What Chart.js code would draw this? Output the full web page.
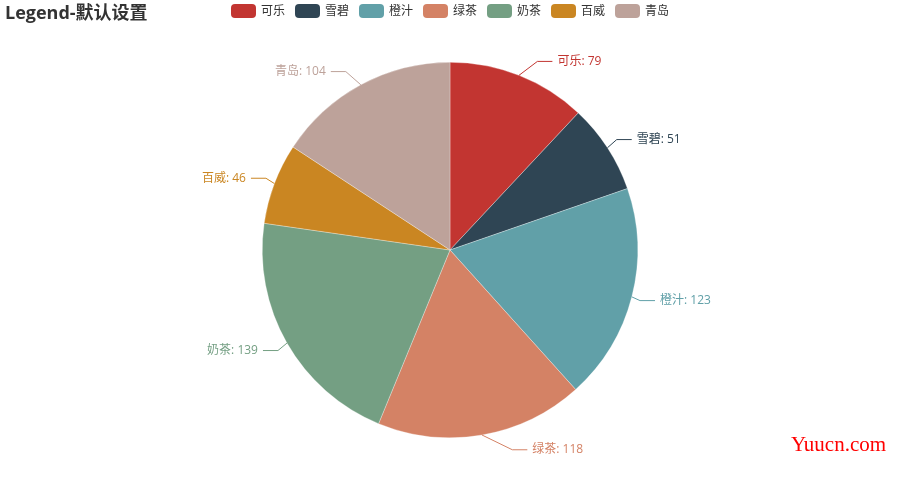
<!DOCTYPE html>
<html>
<head>
<meta charset="utf-8">
<script src="https://cdn.jsdelivr.net/npm/chart.js@4/dist/chart.umd.min.js"></script>
<style>
  html, body { margin: 0; padding: 0; background: #ffffff; }
  #wrap { width: 900px; height: 500px; position: relative; }
</style>
</head>
<body>
<div id="wrap"><canvas id="c" width="900" height="500"></canvas></div>
<script>
const titleText = 'Legend-默认设置';
const categories = ['可乐', '雪碧', '橙汁', '绿茶', '奶茶', '百威', '青岛'];
const values = [79, 51, 123, 118, 139, 46, 104];
const colors = ['#c23531', '#2f4554', '#61a0a8', '#d48265', '#749f83', '#ca8622', '#bda29a'];
const watermarkText = 'Yuucn.com';

const FONT = "'Open Sans', 'Noto Sans CJK SC', sans-serif";

function roundRect(ctx, x, y, w, h, r) {
  ctx.beginPath();
  ctx.moveTo(x + r, y);
  ctx.lineTo(x + w - r, y);
  ctx.arcTo(x + w, y, x + w, y + r, r);
  ctx.lineTo(x + w, y + h - r);
  ctx.arcTo(x + w, y + h, x + w - r, y + h, r);
  ctx.lineTo(x + r, y + h);
  ctx.arcTo(x, y + h, x, y + h - r, r);
  ctx.lineTo(x, y + r);
  ctx.arcTo(x, y, x + r, y, r);
  ctx.closePath();
}

const decorPlugin = {
  id: 'decor',
  afterDatasetsDraw(chart) {
    const ctx = chart.ctx;
    const meta = chart.getDatasetMeta(0);
    ctx.save();
    ctx.font = '12px ' + FONT;
    ctx.textBaseline = 'middle';
    meta.data.forEach((arc, i) => {
      const p = arc.getProps(['x', 'y', 'startAngle', 'endAngle', 'outerRadius'], true);
      const mid = (p.startAngle + p.endAngle) / 2;
      const nx = Math.cos(mid), ny = Math.sin(mid);
      const R = p.outerRadius;
      const dir = nx < 0 ? -1 : 1;
      const x1 = p.x + nx * R, y1 = p.y + ny * R;
      const y2 = p.y + ny * (R + 15);
      const rA = R + 8, rB = R + 23;
      const dy = Math.abs(y2 - p.y);
      const x2 = p.x + dir * rA * Math.sqrt(Math.max(0, 1 - dy * dy / (rB * rB)));
      const x3 = x2 + dir * 15;
      ctx.strokeStyle = colors[i];
      ctx.lineWidth = 1;
      ctx.beginPath();
      ctx.moveTo(x1, y1);
      ctx.lineTo(x2, y2);
      ctx.lineTo(x3, y2);
      ctx.stroke();
      ctx.fillStyle = colors[i];
      ctx.textAlign = dir > 0 ? 'left' : 'right';
      ctx.fillText(categories[i] + ': ' + values[i], x3 + dir * 5, y2);
    });
    ctx.restore();
  },
  afterDraw(chart) {
    const ctx = chart.ctx;
    ctx.save();
    ctx.fillStyle = '#333';
    ctx.font = 'bold 18px ' + FONT;
    ctx.textAlign = 'left';
    ctx.textBaseline = 'middle';
    ctx.fillText(titleText, 5, 14);
    ctx.font = '12px ' + FONT;
    const boxW = 25, boxH = 14, gapText = 5, gapItem = 10;
    const widths = categories.map(c => boxW + gapText + ctx.measureText(c).width);
    const total = widths.reduce((a, b) => a + b, 0) + gapItem * (categories.length - 1);
    let x = chart.width / 2 - total / 2;
    const cy = 11;
    categories.forEach((c, i) => {
      ctx.fillStyle = colors[i];
      roundRect(ctx, x, cy - boxH / 2, boxW, boxH, 4);
      ctx.fill();
      ctx.fillStyle = '#333';
      ctx.textAlign = 'left';
      ctx.fillText(c, x + boxW + gapText, cy + 0.5);
      x += widths[i] + gapItem;
    });
    ctx.fillStyle = '#ff0000';
    ctx.font = "21px 'Liberation Serif', 'DejaVu Serif', serif";
    ctx.textAlign = 'left';
    ctx.textBaseline = 'alphabetic';
    ctx.fillText(watermarkText, 791, 451);
    ctx.restore();
  }
};

new Chart(document.getElementById('c'), {
  type: 'pie',
  data: {
    labels: categories,
    datasets: [{
      data: values,
      backgroundColor: colors,
      borderColor: 'rgba(255,255,255,0.6)',
      borderWidth: 0.5,
      hoverOffset: 0
    }]
  },
  options: {
    responsive: false,
    animation: false,
    layout: { padding: { top: 62, bottom: 62, left: 200, right: 200 } },
    plugins: {
      legend: { display: false },
      title: { display: false },
      tooltip: { enabled: false }
    }
  },
  plugins: [decorPlugin]
});
</script>
</body>
</html>
